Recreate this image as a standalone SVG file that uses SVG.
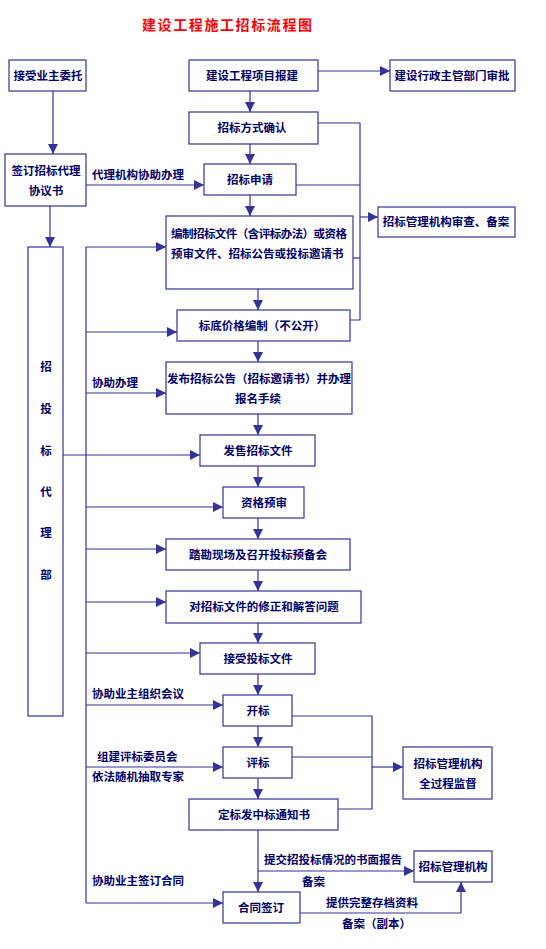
<svg xmlns="http://www.w3.org/2000/svg" width="546" height="949" viewBox="0 0 546 949">
<defs>
<style>
.b{fill:#fff;stroke:#333399;stroke-width:1.2}
.t{font-family:"Noto Sans CJK SC","Noto Sans",sans-serif;font-size:11.5px;font-weight:bold;fill:#000066}
.m{text-anchor:middle}
.l{fill:none;stroke:#333399;stroke-width:1.2}
.a{fill:none;stroke:#333399;stroke-width:1.2;marker-end:url(#ah)}
</style>
<marker id="ah" markerUnits="userSpaceOnUse" markerWidth="10" markerHeight="10" refX="10" refY="5" orient="auto" viewBox="0 0 10 10">
<path d="M0,0 L10,5 L0,10 z" fill="#333399"/>
</marker>
</defs>
<rect width="546" height="949" fill="#fff"/>
<text x="142" y="30" textLength="170" style="font-family:'Noto Sans CJK SC',sans-serif;font-size:14px;font-weight:bold;fill:#ff0000">建设工程施工招标流程图</text>

<g id="connectors">
<path class="a" d="M318,71 H390"/>
<path class="a" d="M250,91 V112"/>
<path class="a" d="M53,91 V154"/>
<path class="a" d="M250,144 V164"/>
<path class="a" d="M86,185 H204"/>
<path class="a" d="M250,195 V216"/>
<path class="l" d="M318,123 H360 V320 H350"/>
<path class="l" d="M296,185 H360"/>
<path class="l" d="M353,258 H360"/>
<path class="a" d="M360,217 H378"/>
<path class="a" d="M50,206 V247"/>
<path class="l" d="M86,247 V903"/>
<path class="a" d="M86,247 H166"/>
<path class="a" d="M86,332 H177"/>
<path class="a" d="M86,393 H166"/>
<path class="a" d="M63,455 H200"/>
<path class="a" d="M86,507 H223"/>
<path class="a" d="M86,549 H166"/>
<path class="a" d="M86,602 H166"/>
<path class="a" d="M86,653 H200"/>
<path class="a" d="M86,705 H223"/>
<path class="a" d="M86,767 H223"/>
<path class="a" d="M86,903 H223"/>
<path class="a" d="M258,289 V310"/>
<path class="a" d="M258,341 V362"/>
<path class="a" d="M258,414 V435"/>
<path class="a" d="M258,466 V487"/>
<path class="a" d="M258,518 V539"/>
<path class="a" d="M258,570 V591"/>
<path class="a" d="M258,623 V643"/>
<path class="a" d="M258,674 V695"/>
<path class="a" d="M258,726 V747"/>
<path class="a" d="M258,778 V799"/>
<path class="a" d="M258,830 V892"/>
<path class="l" d="M292,716 H372 V809 H338"/>
<path class="l" d="M292,757 H372"/>
<path class="a" d="M372,767 H403"/>
<path class="a" d="M258,871 H414"/>
<path class="a" d="M300,913 H461 V882"/>
<text class="t" x="92" y="179">代理机构协助办理</text>
<text class="t" x="92" y="387">协助办理</text>
<text class="t" x="92" y="698">协助业主组织会议</text>
<text class="t" x="97" y="761">组建评标委员会</text>
<text class="t" x="92" y="781">依法随机抽取专家</text>
<text class="t" x="92" y="885">协助业主签订合同</text>
<text class="t" x="264" y="864">提交招投标情况的书面报告</text>
<text class="t" x="302" y="886">备案</text>
<text class="t" x="326" y="907">提供完整存档资料</text>
<text class="t" x="342" y="928">备案（副本）</text>
</g>

<g id="n1"><rect class="b" x="9" y="60" width="77" height="31"/><text class="t m" x="48" y="80">接受业主委托</text></g>
<g id="n2"><rect class="b" x="189" y="60" width="129" height="31"/><text class="t m" x="252" y="80">建设工程项目报建</text></g>
<g id="n3"><rect class="b" x="390" y="60" width="125" height="31"/><text class="t m" x="452" y="80">建设行政主管部门审批</text></g>
<g id="n4"><rect class="b" x="189" y="112" width="129" height="32"/><text class="t m" x="252" y="132">招标方式确认</text></g>
<g id="n5"><rect class="b" x="5" y="154" width="81" height="52"/><text class="t m" x="46" y="175">签订招标代理</text><text class="t m" x="46" y="195">协议书</text></g>
<g id="n6"><rect class="b" x="204" y="164" width="92" height="31"/><text class="t m" x="250" y="184">招标申请</text></g>
<g id="n7"><rect class="b" x="378" y="207" width="137" height="30"/><text class="t m" x="446" y="226">招标管理机构审查、备案</text></g>
<g id="n8"><rect class="b" x="166" y="216" width="187" height="73"/><text class="t" x="171" y="238" textLength="176">编制招标文件（含评标办法）或资格</text><text class="t" x="171" y="258">预审文件、招标公告或投标邀请书</text></g>
<g id="n9"><rect class="b" x="28" y="247" width="35" height="469"/>
<text class="t m" x="46" y="371">招</text><text class="t m" x="46" y="413">投</text><text class="t m" x="46" y="455">标</text><text class="t m" x="46" y="496">代</text><text class="t m" x="46" y="537">理</text><text class="t m" x="46" y="579">部</text></g>
<g id="n10"><rect class="b" x="177" y="310" width="173" height="31"/><text class="t m" x="262" y="330">标底价格编制（不公开）</text></g>
<g id="n11"><rect class="b" x="166" y="362" width="186" height="52"/><text class="t m" x="259" y="383">发布招标公告（招标邀请书）并办理</text><text class="t m" x="258" y="403">报名手续</text></g>
<g id="n12"><rect class="b" x="200" y="435" width="115" height="31"/><text class="t m" x="258" y="455">发售招标文件</text></g>
<g id="n13"><rect class="b" x="223" y="487" width="81" height="31"/><text class="t m" x="264" y="507">资格预审</text></g>
<g id="n14"><rect class="b" x="166" y="539" width="184" height="31"/><text class="t m" x="258" y="559">踏勘现场及召开投标预备会</text></g>
<g id="n15"><rect class="b" x="166" y="591" width="195" height="32"/><text class="t m" x="264" y="611">对招标文件的修正和解答问题</text></g>
<g id="n16"><rect class="b" x="200" y="643" width="115" height="31"/><text class="t m" x="258" y="663">接受投标文件</text></g>
<g id="n17"><rect class="b" x="223" y="695" width="69" height="31"/><text class="t m" x="258" y="715">开标</text></g>
<g id="n18"><rect class="b" x="223" y="747" width="69" height="31"/><text class="t m" x="258" y="767">评标</text></g>
<g id="n19"><rect class="b" x="403" y="747" width="89" height="52"/><text class="t m" x="448" y="768">招标管理机构</text><text class="t m" x="448" y="788">全过程监督</text></g>
<g id="n20"><rect class="b" x="189" y="799" width="149" height="31"/><text class="t m" x="264" y="819">定标发中标通知书</text></g>
<g id="n21"><rect class="b" x="414" y="851" width="78" height="31"/><text class="t m" x="453" y="871">招标管理机构</text></g>
<g id="n22"><rect class="b" x="223" y="892" width="77" height="31"/><text class="t m" x="261" y="912">合同签订</text></g>
</svg>
